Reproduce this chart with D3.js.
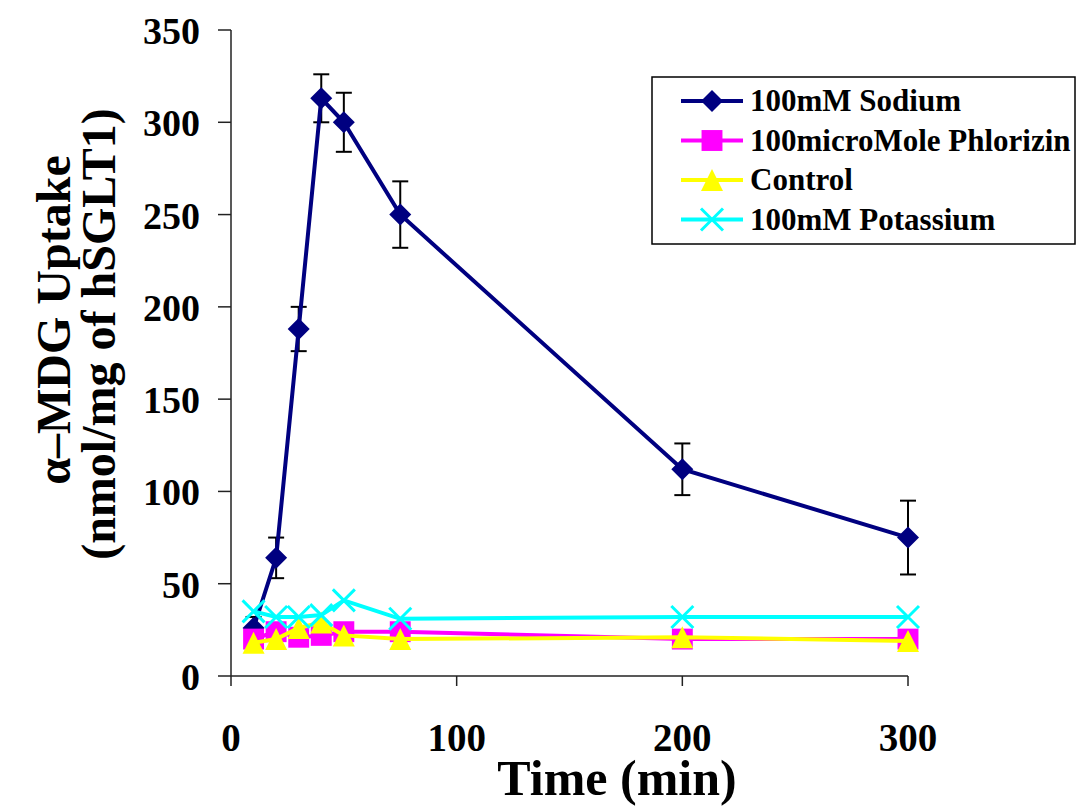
<!doctype html>
<html lang="en">
<head>
  <meta charset="utf-8">
  <title>MDG Uptake</title>
</head>
<style>
body {
	margin: 0;
	background: #fff;
	font-family: "Liberation Serif", "Times New Roman", serif;
}
</style>
<body>
  <script src="https://cdn.jsdelivr.net/npm/d3@7"></script>
  <script>

	// time points (min)
	var times = [10, 20, 30, 40, 50, 75, 200, 300];

	var sodium = [26, 64, 188, 313, 300, 250, 112, 75];
	var sodiumErr = [6, 11, 12, 13, 16, 18, 14, 20];
	var phlorizin = [20, 24, 21, 22, 24, 24, 20, 20];
	var control = [18, 20, 26, 29, 22, 20, 21, 19];
	var potassium = [35, 32, 32, 33, 41, 31, 32, 32];

	var xTicks = [0, 100, 200, 300];
	var yTicks = [0, 50, 100, 150, 200, 250, 300, 350];

	var seriesNames = ["100mM Sodium", "100microMole Phlorizin", "Control", "100mM Potassium"];
	var seriesColors = ["#000080", "#FF00FF", "#FFFF00", "#00FFFF"];
	var seriesShapes = ["diamond", "square", "triangle", "cross"];
	var seriesValues = [sodium, phlorizin, control, potassium];

	var svg = d3.select("body").append("svg")
		.attr("width", 1078)
		.attr("height", 806);

	var x = d3.scaleLinear().domain([0, 300]).range([231, 908]);
	var y = d3.scaleLinear().domain([0, 350]).range([676, 30]);

	// marker drawing
	function marker(sel, shape, color, s) {
		if (shape == "diamond") {
			sel.append("path")
				.attr("d", "M0," + (-s) + "L" + s + ",0L0," + s + "L" + (-s) + ",0Z")
				.attr("fill", color);
		} else if (shape == "square") {
			sel.append("rect")
				.attr("x", -s * 0.95).attr("y", -s * 0.95)
				.attr("width", s * 1.9).attr("height", s * 1.9)
				.attr("fill", color);
		} else if (shape == "triangle") {
			sel.append("path")
				.attr("d", "M0," + (-s) + "L" + s + "," + s + "L" + (-s) + "," + s + "Z")
				.attr("fill", color);
		} else {
			sel.append("path")
				.attr("d", "M" + (-s) + "," + (-s) + "L" + s + "," + s + "M" + s + "," + (-s) + "L" + (-s) + "," + s)
				.attr("stroke", color)
				.attr("stroke-width", 3);
		}
	}

	// axes
	var yAxis = svg.append("g");
	yAxis.append("line")
		.attr("x1", x(0)).attr("x2", x(0))
		.attr("y1", y(0)).attr("y2", y(350))
		.attr("stroke", "#222").attr("stroke-width", 1.5);
	yAxis.selectAll(".ytick")
		.data(yTicks)
		.join("line")
		.attr("x1", x(0) - 13).attr("x2", x(0))
		.attr("y1", function (d) { return y(d); })
		.attr("y2", function (d) { return y(d); })
		.attr("stroke", "#222").attr("stroke-width", 1.5);
	yAxis.selectAll(".ylab")
		.data(yTicks)
		.join("text")
		.attr("x", 200)
		.attr("y", function (d) { return y(d) + 14; })
		.attr("text-anchor", "end")
		.attr("font-size", "38px")
		.attr("font-weight", "bold")
		.text(function (d) { return d; });

	var xAxis = svg.append("g");
	xAxis.append("line")
		.attr("x1", x(0)).attr("x2", x(300))
		.attr("y1", y(0)).attr("y2", y(0))
		.attr("stroke", "#222").attr("stroke-width", 1.5);
	xAxis.selectAll(".xtick")
		.data(xTicks)
		.join("line")
		.attr("x1", function (d) { return x(d); })
		.attr("x2", function (d) { return x(d); })
		.attr("y1", y(0)).attr("y2", y(0) + 10)
		.attr("stroke", "#222").attr("stroke-width", 1.5);
	xAxis.selectAll(".xlab")
		.data(xTicks)
		.join("text")
		.attr("x", function (d) { return x(d); })
		.attr("y", 751)
		.attr("text-anchor", "middle")
		.attr("font-size", "39px")
		.attr("font-weight", "bold")
		.text(function (d) { return d; });

	svg.append("text")
		.attr("x", 617)
		.attr("y", 795)
		.attr("text-anchor", "middle")
		.attr("font-size", "50px")
		.attr("font-weight", "bold")
		.text("Time (min)");

	svg.append("text")
		.attr("transform", "translate(70,320) rotate(-90)")
		.attr("text-anchor", "middle")
		.attr("font-size", "48px")
		.attr("font-weight", "bold")
		.text("\u03b1\u2013MDG Uptake");
	svg.append("text")
		.attr("transform", "translate(115,334) rotate(-90)")
		.attr("text-anchor", "middle")
		.attr("font-size", "48px")
		.attr("font-weight", "bold")
		.text("(nmol/mg of hSGLT1)");

	// error bars for sodium
	var eb = svg.append("g");
	eb.selectAll(".ebv")
		.data(times)
		.join("line")
		.attr("x1", function (d) { return x(d); })
		.attr("x2", function (d) { return x(d); })
		.attr("y1", function (d, i) { return y(sodium[i] - sodiumErr[i]); })
		.attr("y2", function (d, i) { return y(sodium[i] + sodiumErr[i]); })
		.attr("stroke", "#000").attr("stroke-width", 2);
	[-1, 1].forEach(function (sgn) {
		eb.selectAll(".ebc" + sgn)
			.data(times)
			.join("line")
			.attr("x1", function (d) { return x(d) - 8; })
			.attr("x2", function (d) { return x(d) + 8; })
			.attr("y1", function (d, i) { return y(sodium[i] + sgn * sodiumErr[i]); })
			.attr("y2", function (d, i) { return y(sodium[i] + sgn * sodiumErr[i]); })
			.attr("stroke", "#000").attr("stroke-width", 2);
	});

	// series
	var line = d3.line()
		.x(function (d) { return x(d[0]); })
		.y(function (d) { return y(d[1]); });

	seriesValues.forEach(function (vals, k) {
		var pts = times.map(function (t, i) { return [t, vals[i]]; });
		var g = svg.append("g");
		g.append("path")
			.datum(pts)
			.attr("d", line)
			.attr("fill", "none")
			.attr("stroke", seriesColors[k])
			.attr("stroke-width", 4);
		g.selectAll(".m")
			.data(pts)
			.join("g")
			.attr("transform", function (d) { return "translate(" + x(d[0]) + "," + y(d[1]) + ")"; })
			.each(function () { marker(d3.select(this), seriesShapes[k], seriesColors[k], 11); });
	});

	// legend
	var lg = svg.append("g");
	lg.append("rect")
		.attr("x", 652).attr("y", 77)
		.attr("width", 423).attr("height", 167)
		.attr("fill", "#fff")
		.attr("stroke", "#000").attr("stroke-width", 1.5);
	seriesNames.forEach(function (name, k) {
		var ly = 101 + k * 39.5;
		var row = lg.append("g");
		row.append("line")
			.attr("x1", 681).attr("x2", 743)
			.attr("y1", ly).attr("y2", ly)
			.attr("stroke", seriesColors[k]).attr("stroke-width", 4);
		marker(row.append("g").attr("transform", "translate(712," + ly + ")"), seriesShapes[k], seriesColors[k], 11);
		row.append("text")
			.attr("x", 750)
			.attr("y", ly + 10)
			.attr("font-size", "31px")
			.attr("font-weight", "bold")
			.text(name);
	});

  </script>
</body>
</html>
